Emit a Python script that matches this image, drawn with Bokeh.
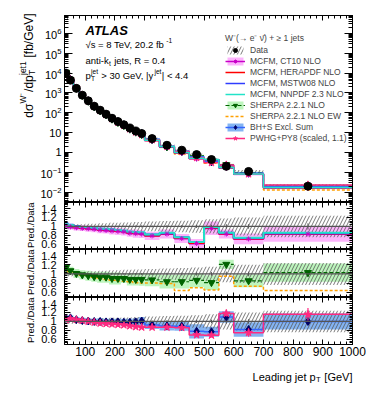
import numpy as np
from bokeh.plotting import figure
from bokeh.layouts import column, row
from bokeh.models import (Range1d, LinearAxis, LogAxis, FixedTicker, SingleIntervalTicker,
                          Label, Legend, LegendItem, Span, GlobalInlineStyleSheet)
from bokeh.embed import file_html
from bokeh.resources import INLINE

# ---------------- data ----------------
bin_edges = [30, 40, 60, 80, 100, 120, 140, 160, 180, 200, 220, 240, 260, 280, 300,
             350, 400, 450, 500, 550, 600, 700, 1000]
data_xsec = [9.7e3, 4.4e3, 1.7e3, 770, 400, 215, 135, 85, 53, 36, 25, 17, 12, 9.0,
             5.0, 2.3, 1.3, 0.78, 0.44, 0.20, 0.11, 0.020]
data_rel_err = [0.05, 0.05, 0.05, 0.05, 0.06, 0.06, 0.07, 0.07, 0.08, 0.08, 0.09,
                0.09, 0.10, 0.10, 0.11, 0.12, 0.13, 0.14, 0.16, 0.18, 0.20, 0.24]
data_rel_stat = [0.003, 0.003, 0.004, 0.005, 0.006, 0.007, 0.008, 0.010, 0.012, 0.014, 0.016,
                 0.018, 0.020, 0.022, 0.020, 0.025, 0.030, 0.035, 0.040, 0.050, 0.050, 0.070]

ratio_mcfm_ct10 = [1.01, 0.99, 0.97, 0.96, 0.95, 0.94, 0.92, 0.91, 0.90, 0.89, 0.88,
                   0.85, 0.84, 0.83, 0.79, 0.83, 0.73, 0.62, 0.96, 0.83, 0.72, 0.83]
err_mcfm_ct10 = [0.06, 0.06, 0.06, 0.06, 0.07, 0.07, 0.07, 0.07, 0.08, 0.08, 0.08,
                 0.08, 0.09, 0.09, 0.09, 0.10, 0.10, 0.10, 0.15, 0.10, 0.12, 0.17]
ratio_mcfm_herapdf = [1.03, 1.01, 0.98, 0.97, 0.96, 0.95, 0.93, 0.92, 0.91, 0.90, 0.89,
                      0.86, 0.85, 0.85, 0.80, 0.84, 0.74, 0.63, 0.97, 0.84, 0.73, 0.84]
ratio_mcfm_mstw08 = [1.08, 1.04, 1.01, 0.99, 0.98, 0.96, 0.95, 0.94, 0.93, 0.92, 0.90,
                     0.88, 0.87, 0.86, 0.82, 0.85, 0.76, 0.65, 0.98, 0.86, 0.74, 0.85]
ratio_mcfm_nnpdf = [1.06, 1.03, 1.00, 0.99, 0.98, 0.97, 0.95, 0.95, 0.93, 0.92, 0.91,
                    0.88, 0.87, 0.87, 0.82, 0.86, 0.76, 0.65, 0.99, 0.86, 0.75, 0.86]
ratio_sherpa = [1.14, 1.07, 1.01, 0.98, 0.96, 0.94, 0.93, 0.93, 0.90, 0.90, 0.90,
                0.88, 0.88, 0.88, 0.87, 0.83, 0.83, 0.86, 0.81, 1.21, 0.85, 1.03]
err_sherpa = [0.08, 0.09, 0.10, 0.10, 0.11, 0.11, 0.12, 0.12, 0.13, 0.13, 0.09,
              0.13, 0.13, 0.14, 0.14, 0.15, 0.15, 0.15, 0.16, 0.10, 0.14, 0.20]
ratio_sherpa_ew = [1.12, 1.05, 1.00, 0.97, 0.95, 0.93, 0.90, 0.88, 0.86, 0.84, 0.84,
                   0.83, 0.81, 0.80, 0.80, 0.79, 0.64, 0.70, 0.65, 0.95, 0.73, 0.64]
ratio_bhs = [1.07, 1.08, 1.04, 1.02, 1.01, 1.00, 1.00, 0.99, 0.99, 0.99, 0.98,
             0.98, 0.99, 1.01, 0.92, 0.90, 0.89, 0.78, 0.77, 1.10, 0.82, 1.00]
err_bhs = [0.06, 0.06, 0.06, 0.06, 0.06, 0.06, 0.07, 0.07, 0.07, 0.07, 0.08,
           0.08, 0.08, 0.09, 0.09, 0.10, 0.10, 0.16, 0.11, 0.13, 0.16, 0.18]
ratio_pwhg = [1.04, 1.06, 1.04, 1.02, 1.00, 0.98, 0.96, 0.95, 0.94, 0.93, 0.92,
              0.90, 0.88, 0.87, 0.87, 0.87, 0.86, 0.70, 0.69, 1.18, 0.75, 1.16]
err_pwhg = [0.01, 0.01, 0.01, 0.01, 0.01, 0.01, 0.01, 0.01, 0.015, 0.015, 0.02,
            0.02, 0.02, 0.02, 0.03, 0.03, 0.04, 0.04, 0.05, 0.07, 0.09, 0.14]

legend_header = "W\u207b(\u2192 e\u207b \u03bd\u0304) + \u2265 1 jets"
legend_labels = ["Data", "MCFM, CT10 NLO", "MCFM, HERAPDF NLO", "MCFM, MSTW08 NLO",
                 "MCFM, NNPDF 2.3 NLO", "SHERPA 2.2.1 NLO", "SHERPA 2.2.1 NLO EW",
                 "BH+S Excl. Sum", "PWHG+PY8 (scaled, 1.1)"]

# ---------------- style ----------------
FONT = "Liberation Sans"
C_CT10, C_CT10_BAND = "#c800c8", "#fcb4fc"
C_HERA = "#ff0000"
C_MSTW = "#2f3cff"
C_NNPDF = "#22e3c8"
C_SH, C_SH_BAND = "#006400", "#bdf5bd"
C_SHEW = "#ffa000"
C_BHS, C_BHS_BAND, C_BHS_MK = "#3366ff", "#84b4f2", "#000066"
C_PW = "#ff2a80"
C_HATCH = "#555555"

edges = np.array(bin_edges, float)
lefts, rights = edges[:-1], edges[1:]
centers = 0.5 * (lefts + rights)
data = np.array(data_xsec)
derr = np.array(data_rel_err)


def step_y(v):
    v = list(v)
    return v + [v[-1]]


AW = {' ': 278, '!': 278, '(': 333, ')': 333, '+': 584, ',': 278, '-': 333, '.': 278, '/': 278,
      '<': 584, '=': 584, '>': 584, '[': 278, ']': 278, '|': 260, '\u221a': 549, '\u03c3': 600,
      '\u207b': 400, '\u00b9': 333}
for ch in "0123456789":
    AW[ch] = 556
for ch, w in zip("ABCDEFGHIJKLMNOPQRSTUVWXYZ",
                 [667, 667, 722, 722, 667, 611, 778, 722, 278, 500, 667, 556, 833, 722, 778, 667,
                  778, 722, 667, 611, 722, 667, 944, 667, 667, 611]):
    AW[ch] = w
for ch, w in zip("abcdefghijklmnopqrstuvwxyz",
                 [556, 556, 500, 556, 556, 278, 556, 556, 222, 222, 500, 222, 833, 556, 556, 556,
                  556, 333, 500, 278, 556, 500, 722, 500, 500, 500]):
    AW[ch] = w


def tw(s, size):
    return sum(AW.get(c, 556) for c in s) * size / 1000.0


def layout_parts(parts, size):
    small = size * 0.7
    items = []
    pos = 0.0

    def add(at, b, text, fs):
        lead = len(text) - len(text.lstrip(" "))
        items.append((at + tw(" " * lead, fs), b, text.strip(" "), fs))
        return tw(text, fs)

    for part in parts:
        kind = part[0]
        if kind == "n":
            pos += add(pos, 0.0, part[1], size)
        elif kind == "sup":
            pos += add(pos + 0.3, 0.42 * size, part[1], small) + 0.6
        elif kind == "sub":
            pos += add(pos + 0.3, -0.28 * size, part[1], small) + 1.0
        else:
            w1 = add(pos + 0.3, -0.28 * size, part[1], small)
            w2 = add(pos + 0.3, 0.42 * size, part[2], small)
            pos += max(w1, w2) + 0.8
    return items, pos


def rich_label(p, x, y, parts, size, rotated=False, align="left", style="normal"):
    items, total = layout_parts(parts, size)
    shift = {"left": 0.0, "right": -total, "center": -total / 2}[align]
    for a, b, t, fs in items:
        a += shift
        if rotated:
            lx, ly, ang = x - b, y + a, np.pi / 2
        else:
            lx, ly, ang = x + a, y + b, 0.0
        p.add_layout(Label(x=lx, y=ly, x_units="screen", y_units="screen", text=t, angle=ang,
                           text_font=FONT, text_font_size=f"{fs:.1f}px", text_font_style=style,
                           text_color="black", text_align="left", text_baseline="alphabetic"))


def style_axis(ax, tin, mtin, size=None, standoff=0):
    ax.major_tick_in = tin
    ax.major_tick_out = 0
    ax.minor_tick_in = mtin
    ax.minor_tick_out = 0
    ax.axis_line_color = "black"
    ax.major_tick_line_color = "black"
    ax.minor_tick_line_color = "black"
    ax.major_label_text_font = FONT
    if size is None:
        ax.major_label_text_font_size = "0px"
        ax.major_label_text_color = None
        ax.major_label_standoff = 0
    else:
        ax.major_label_text_font_size = size
        ax.major_label_text_color = "black"
        ax.major_label_standoff = standoff


LW, BL, BR, FW = 29, 25, 14, 290


def make_fig(fh, yr, log, top, bottom):
    p = figure(width=BL + FW + BR, height=top + fh + bottom, x_range=Range1d(30, 1000),
               y_range=Range1d(*yr), y_axis_type="log" if log else "linear",
               output_backend="svg", toolbar_location=None,
               min_border_left=BL, min_border_right=BR, min_border_top=top, min_border_bottom=bottom)
    p.grid.visible = False
    p.outline_line_color = "black"
    p.outline_line_width = 1
    p.background_fill_color = "white"
    p.border_fill_color = "white"
    return p


def x_axes(p, labels):
    p.xaxis[0].ticker = SingleIntervalTicker(interval=100, num_minor_ticks=5)
    style_axis(p.xaxis[0], 5, 3, "12px" if labels else None, 2)
    top = LinearAxis(ticker=SingleIntervalTicker(interval=100, num_minor_ticks=5))
    style_axis(top, 5, 3)
    p.add_layout(top, "above")


def strip(w, h):
    s = figure(width=w, height=h, x_range=Range1d(0, w), y_range=Range1d(0, h),
               output_backend="svg", toolbar_location=None, title=None,
               min_border_left=0, min_border_right=0, min_border_top=0, min_border_bottom=0,
               x_axis_location=None, y_axis_location=None)
    s.grid.visible = False
    s.outline_line_color = None
    s.background_fill_color = "white"
    s.border_fill_color = "white"
    return s


# ---------------- main panel ----------------
p0 = make_fig(187, (3e-3, 8e6), True, 7, 0)
x_axes(p0, False)
maj = [10.0 ** e for e in range(-2, 7)]
mnr = [m * 10.0 ** e for e in range(-3, 7) for m in range(2, 10)]
p0.yaxis[0].ticker = FixedTicker(ticks=maj, minor_ticks=mnr)
p0.yaxis[0].major_label_overrides = {1: "1", 10: "10"}
style_axis(p0.yaxis[0], 8, 4, "11px", 3)
ry = LogAxis(ticker=FixedTicker(ticks=maj, minor_ticks=mnr))
style_axis(ry, 8, 4)
p0.add_layout(ry, "right")

pred = lambda r: data * np.array(r)
r_ct10_band = p0.quad(left=lefts, right=rights, bottom=pred(ratio_mcfm_ct10) * (1 - np.array(err_mcfm_ct10)),
                      top=pred(ratio_mcfm_ct10) * (1 + np.array(err_mcfm_ct10)), fill_color=C_CT10_BAND, line_alpha=0)
r_sh_band = p0.quad(left=lefts, right=rights, bottom=pred(ratio_sherpa) * (1 - np.array(err_sherpa)),
                    top=pred(ratio_sherpa) * (1 + np.array(err_sherpa)), fill_color=C_SH_BAND, line_alpha=0)
r_bhs_band = p0.quad(left=lefts, right=rights, bottom=pred(ratio_bhs) * (1 - np.array(err_bhs)),
                     top=pred(ratio_bhs) * (1 + np.array(err_bhs)), fill_color=C_BHS_BAND, line_alpha=0)
r_data_hatch = p0.quad(left=lefts, right=rights, bottom=data * (1 - derr), top=data * (1 + derr),
                       fill_alpha=0, line_alpha=0, hatch_pattern="/", hatch_color=C_HATCH,
                       hatch_scale=7, hatch_weight=0.8)
r_shew = p0.step(x=edges, y=step_y(pred(ratio_sherpa_ew)), mode="after", line_color=C_SHEW,
                 line_width=1.5, line_dash="3 2")
r_sh_line = p0.segment(x0=lefts, x1=rights, y0=pred(ratio_sherpa), y1=pred(ratio_sherpa),
                       line_color=C_SH, line_width=1.2, line_dash="4 2")
r_sh_mk = p0.scatter(x=centers, y=pred(ratio_sherpa), marker="inverted_triangle", size=7,
                     fill_color=C_SH, line_color=C_SH)
r_bhs_line = p0.step(x=edges, y=step_y(pred(ratio_bhs)), mode="after", line_color=C_BHS, line_width=1.5)
r_bhs_mk = p0.scatter(x=centers, y=pred(ratio_bhs), marker="diamond", size=8, fill_color=C_BHS_MK,
                      line_color=C_BHS_MK)
r_ct10_line = p0.step(x=edges, y=step_y(pred(ratio_mcfm_ct10)), mode="after", line_color=C_CT10, line_width=1.5)
r_ct10_mk = p0.scatter(x=centers, y=pred(ratio_mcfm_ct10), marker="asterisk", size=6, line_color=C_CT10)
r_hera = p0.step(x=edges, y=step_y(pred(ratio_mcfm_herapdf)), mode="after", line_color=C_HERA, line_width=1.5)
r_mstw = p0.step(x=edges, y=step_y(pred(ratio_mcfm_mstw08)), mode="after", line_color=C_MSTW, line_width=1.5)
r_pw_line = p0.step(x=edges, y=step_y(pred(ratio_pwhg)), mode="after", line_color=C_PW, line_width=1.5)
r_pw_mk = p0.scatter(x=centers, y=pred(ratio_pwhg), marker="star", size=8, fill_color=C_PW, line_color=C_PW)
r_nnpdf = p0.step(x=edges, y=step_y(pred(ratio_mcfm_nnpdf)), mode="after", line_color=C_NNPDF, line_width=1.5)
r_data = p0.scatter(x=centers, y=data, marker="circle", size=8, fill_color="black", line_color="black")

legend = Legend(items=[
    LegendItem(label=legend_labels[0], renderers=[r_data_hatch, r_data]),
    LegendItem(label=legend_labels[1], renderers=[r_ct10_band, r_ct10_line, r_ct10_mk]),
    LegendItem(label=legend_labels[2], renderers=[r_hera]),
    LegendItem(label=legend_labels[3], renderers=[r_mstw]),
    LegendItem(label=legend_labels[4], renderers=[r_nnpdf]),
    LegendItem(label=legend_labels[5], renderers=[r_sh_band, r_sh_line, r_sh_mk]),
    LegendItem(label=legend_labels[6], renderers=[r_shew]),
    LegendItem(label=legend_labels[7], renderers=[r_bhs_band, r_bhs_line, r_bhs_mk]),
    LegendItem(label=legend_labels[8], renderers=[r_pw_line, r_pw_mk]),
], location=(161, 59))
legend.title = legend_header
legend.title_text_font = FONT
legend.title_text_font_size = "8.5px"
legend.title_text_font_style = "normal"
legend.title_standoff = 2
legend.label_text_font = FONT
legend.label_text_font_size = "8.5px"
legend.label_height = 10
legend.glyph_height = 10
legend.glyph_width = 20
legend.spacing = 1
legend.label_standoff = 5
legend.padding = 0
legend.margin = 0
legend.border_line_alpha = 0
legend.background_fill_alpha = 0
p0.add_layout(legend)

# in-plot texts (frame-relative screen coordinates)
rich_label(p0, 21, 172, [("n", "ATLAS")], 13, style="bold italic")
rich_label(p0, 21, 158, [("n", "\u221as = 8 TeV, 20.2 fb"), ("sup", "-1")], 9.5)
rich_label(p0, 21, 142, [("n", "anti-k"), ("sub", "t"), ("n", " jets, R = 0.4")], 9.5)
rich_label(p0, 21, 127, [("n", "p"), ("ss", "T", "jet"), ("n", " > 30 GeV, |y"), ("sup", "jet"),
                         ("n", "| < 4.4")], 9.5)


# ---------------- ratio panels ----------------
def ratio_fig(fh, bottom, xlabels):
    p = make_fig(fh, (0.485, 1.535), False, 0, bottom)
    x_axes(p, xlabels)
    minors = [round(v, 2) for v in np.arange(0.52, 1.53, 0.04)]
    p.yaxis[0].ticker = FixedTicker(ticks=[0.6, 0.8, 1.0, 1.2, 1.4], minor_ticks=minors)
    p.yaxis[0].major_label_overrides = {1: "1"}
    style_axis(p.yaxis[0], 6, 3, "11px", 8)
    ra = LinearAxis(ticker=FixedTicker(ticks=[0.6, 0.8, 1.0, 1.2, 1.4], minor_ticks=minors))
    style_axis(ra, 6, 3)
    p.add_layout(ra, "right")
    return p


def data_band(p):
    p.quad(left=lefts, right=rights, bottom=1 - derr, top=1 + derr, fill_alpha=0, line_alpha=0,
           hatch_pattern="/", hatch_color=C_HATCH, hatch_scale=7, hatch_weight=0.8)
    p.add_layout(Span(location=1, dimension="width", line_color="#555555", line_width=1.2))
    st = np.array(data_rel_stat)
    p.segment(x0=centers, x1=centers, y0=1 - st, y1=1 + st, line_color="#555555", line_width=1)


p1 = ratio_fig(47, 0, False)
p1.quad(left=lefts, right=rights, bottom=np.array(ratio_mcfm_ct10) - np.array(err_mcfm_ct10),
        top=np.array(ratio_mcfm_ct10) + np.array(err_mcfm_ct10), fill_color=C_CT10_BAND, line_alpha=0)
data_band(p1)
p1.step(x=edges, y=step_y(ratio_mcfm_ct10), mode="after", line_color=C_CT10, line_width=2)
p1.step(x=edges, y=step_y(ratio_mcfm_herapdf), mode="after", line_color=C_HERA, line_width=2)
p1.step(x=edges, y=step_y(ratio_mcfm_mstw08), mode="after", line_color=C_MSTW, line_width=2)
p1.step(x=edges, y=step_y(ratio_mcfm_nnpdf), mode="after", line_color=C_NNPDF, line_width=2)
p1.scatter(x=centers, y=ratio_mcfm_ct10, marker="asterisk", size=5, line_color=C_CT10)

p2 = ratio_fig(48, 0, False)
p2.quad(left=lefts, right=rights, bottom=np.array(ratio_sherpa) - np.array(err_sherpa),
        top=np.array(ratio_sherpa) + np.array(err_sherpa), fill_color=C_SH_BAND, line_alpha=0)
data_band(p2)
p2.step(x=edges, y=step_y(ratio_sherpa_ew), mode="after", line_color=C_SHEW, line_width=1.5, line_dash="3 2")
p2.segment(x0=lefts, x1=rights, y0=ratio_sherpa, y1=ratio_sherpa, line_color=C_SH, line_width=1.2,
           line_dash="4 2")
p2.scatter(x=centers, y=ratio_sherpa, marker="inverted_triangle", size=7, fill_color=C_SH, line_color=C_SH)

p3 = ratio_fig(47, 18, True)
p3.quad(left=lefts, right=rights, bottom=np.array(ratio_bhs) - np.array(err_bhs),
        top=np.array(ratio_bhs) + np.array(err_bhs), fill_color=C_BHS_BAND, line_alpha=0)
data_band(p3)
p3.step(x=edges, y=step_y(ratio_bhs), mode="after", line_color=C_BHS, line_width=1.5)
p3.scatter(x=centers, y=ratio_bhs, marker="diamond", size=8, fill_color=C_BHS_MK, line_color=C_BHS_MK)
p3.step(x=edges, y=step_y(ratio_pwhg), mode="after", line_color=C_PW, line_width=1.5)
p3.segment(x0=centers, x1=centers, y0=np.array(ratio_pwhg) - np.array(err_pwhg),
           y1=np.array(ratio_pwhg) + np.array(err_pwhg), line_color=C_PW, line_width=1.2)
p3.scatter(x=centers, y=ratio_pwhg, marker="star", size=8, fill_color=C_PW, line_color=C_PW)

# ---------------- title strips ----------------
H_MAIN = 7 + 187
H_PANELS = H_MAIN + 47 + 48 + 47 + 18
left_strip = strip(LW, H_PANELS)
rich_label(left_strip, LW - 9, H_PANELS - 5,
           [("n", "d\u03c3"), ("sup", "W\u207b"), ("n", "/dp"), ("ss", "T", "jet1"), ("n", " [fb/GeV]")],
           12, rotated=True, align="right")
for top_px in (H_MAIN, H_MAIN + 47, H_MAIN + 95):
    rich_label(left_strip, LW - 7.5, H_PANELS - top_px, [("n", "Pred./Data")], 9.5, rotated=True,
               align="right")

TOTAL_W = LW + BL + FW + BR
bottom_strip = strip(TOTAL_W, 24)
rich_label(bottom_strip, LW + BL + FW, 10, [("n", "Leading jet p"), ("sub", "T"), ("n", " [GeV]")], 11,
           align="right")

layout = column(row(left_strip, column(p0, p1, p2, p3, spacing=0), spacing=0), bottom_strip, spacing=0)
layout.stylesheets = [GlobalInlineStyleSheet(css="html, body { margin: 0 !important; padding: 0 !important; } body { margin: 8px !important; }")]
open("out.html", "w").write(file_html(layout, INLINE))
